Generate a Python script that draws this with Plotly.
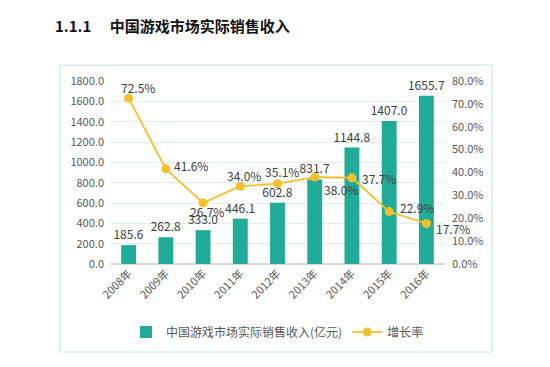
import plotly.graph_objects as go

years = ["2008年", "2009年", "2010年", "2011年", "2012年", "2013年", "2014年", "2015年", "2016年"]
revenue = [185.6, 262.8, 333.0, 446.1, 602.8, 831.7, 1144.8, 1407.0, 1655.7]
growth = [72.5, 41.6, 26.7, 34.0, 35.1, 38.0, 37.7, 22.9, 17.7]
growth_label = ["72.5%", "41.6%", "26.7%", "34.0%", "35.1%", "38.0%", "37.7%", "22.9%", "17.7%"]
# label offsets (px) for the growth labels
label_dx = [9, 25, 4, 4, 4, 26, 27, 28, 27]
label_dy = [11, 3, -9, 11, 12, -12, -1, 4, -5]

BAR = "#20AC96"
LINE = "#F5C02C"
GRID = "#E4EBEB"
TXT = "#404040"
AX = "#595959"
FONT = "Noto Sans CJK SC"

fig = go.Figure()
fig.add_trace(go.Bar(
    x=years, y=revenue, name="中国游戏市场实际销售收入(亿元)",
    marker=dict(color=BAR, line=dict(width=0)),
    texttemplate="%{y:.1f}", textposition="outside", textangle=0,
    constraintext="none",
    textfont=dict(size=12, color=TXT, family=FONT),
    cliponaxis=False,
))
fig.add_trace(go.Scatter(
    x=years, y=growth, name="增长率", yaxis="y2", mode="lines+markers",
    line=dict(color=LINE, width=1.8),
    marker=dict(color=LINE, size=9),
    cliponaxis=False,
))

for i in range(len(years)):
    fig.add_annotation(
        x=years[i], y=growth[i], yref="y2", text=growth_label[i],
        showarrow=False, xshift=label_dx[i], yshift=label_dy[i],
        font=dict(size=12, color=TXT, family=FONT),
    )

# chart border and title
fig.add_shape(type="rect", xref="paper", yref="paper",
              x0=-0.149, x1=1.140, y0=-0.481, y1=1.087,
              line=dict(color="#CFE6E3", width=1.2), fillcolor="rgba(0,0,0,0)")
fig.add_annotation(xref="paper", yref="paper", x=-0.170, y=1.305,
                   xanchor="left", yanchor="middle", showarrow=False,
                   text="<b>1.1.1　 中国游戏市场实际销售收入</b>",
                   font=dict(size=15, color="#111111", family=FONT))

fig.update_layout(
    width=550, height=367,
    margin=dict(l=110, r=105, t=81, b=103),
    paper_bgcolor="white", plot_bgcolor="white",
    bargap=0.6,
    font=dict(family=FONT, color=AX, size=11),
    showlegend=True,
    legend=dict(orientation="h", x=0.5, xanchor="center", y=-0.372, yanchor="middle",
                font=dict(size=12, color=AX, family=FONT), itemwidth=30,
                bgcolor="rgba(0,0,0,0)"),
    xaxis=dict(type="category", range=[-0.5, len(years) - 0.5], tickangle=-45,
               showgrid=False, showline=False,
               ticks="", tickfont=dict(size=11, color=AX, family=FONT)),
    yaxis=dict(range=[0, 1800], dtick=200, tickformat=".1f", showgrid=True,
               gridcolor=GRID, gridwidth=1, zeroline=True, zerolinecolor="#D9D9D9",
               showline=False, ticks="", ticklabelstandoff=5,
               tickfont=dict(size=11, color=AX, family=FONT)),
    yaxis2=dict(range=[0, 80], dtick=10, overlaying="y", side="right",
                ticksuffix="%", tickformat=".1f", showgrid=False, zeroline=False,
                showline=False, ticks="", ticklabelstandoff=6,
                tickfont=dict(size=11, color=AX, family=FONT)),
)

fig.write_html("out.html", config={"displayModeBar": False},
               post_script="document.body.style.margin='0';")
